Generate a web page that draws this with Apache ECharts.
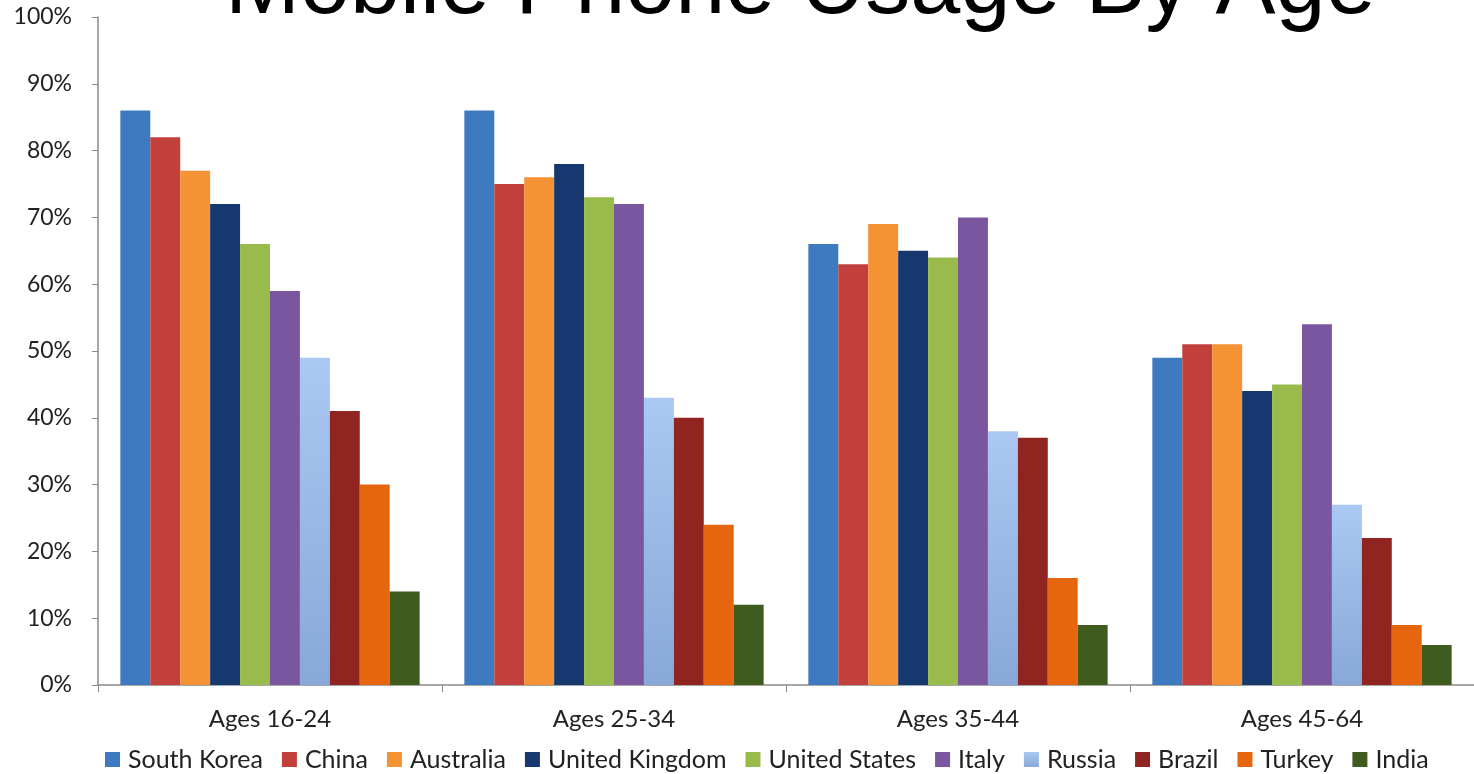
<!DOCTYPE html>
<html><head><meta charset="utf-8">
<script src="https://cdn.jsdelivr.net/npm/echarts@6/dist/echarts.min.js"></script>
<style>html,body{margin:0;padding:0;background:#fff}#c{width:1474px;height:774px}</style>
</head><body><div id="c"></div>
<script>
const categories = ['Ages 16-24', 'Ages 25-34', 'Ages 35-44', 'Ages 45-64'];
const countries = ['South Korea', 'China', 'Australia', 'United Kingdom', 'United States', 'Italy', 'Russia', 'Brazil', 'Turkey', 'India'];
const southKorea = [86, 86, 66, 49];
const china = [82, 75, 63, 51];
const australia = [77, 76, 69, 51];
const unitedKingdom = [72, 78, 65, 44];
const unitedStates = [66, 73, 64, 45];
const italy = [59, 72, 70, 54];
const russia = [49, 43, 38, 27];
const brazil = [41, 40, 37, 22];
const turkey = [30, 24, 16, 9];
const india = [14, 12, 9, 6];
const yTicks = [0, 10, 20, 30, 40, 50, 60, 70, 80, 90, 100];
const colors = ['#3d7abf', '#c1403c', '#f59233', '#17386f', '#98bb4b', '#7b56a0', '#a7c3ec', '#8f2421', '#e6650f', '#3f5b1d'];
const values = [southKorea, china, australia, unitedKingdom, unitedStates, italy, russia, brazil, turkey, india];

const chart = echarts.init(document.getElementById('c'), null, {renderer: 'canvas'});
const font = 'Lato, "Open Sans", sans-serif';
const russiaGradient = new echarts.graphic.LinearGradient(0, 0, 0, 1, [
  {offset: 0, color: '#aac8f2'}, {offset: 1, color: '#88a8d8'}
]);
chart.setOption({
  animation: false,
  title: {
    text: 'Mobile Phone Usage By Age',
    left: 220,
    top: -62,
    textStyle: {fontFamily: '"Liberation Sans", Arial, sans-serif', fontSize: 90, fontWeight: 'normal', color: '#000'}
  },
  legend: {
    bottom: -3,
    left: 100,
    itemWidth: 15,
    itemHeight: 15,
    itemGap: 19,
    icon: 'rect',
    textStyle: {fontFamily: font, fontSize: 25, color: '#222', padding: [0, 0, 0, 3]},
    data: countries
  },
  grid: {left: 98, right: 0, top: 17, bottom: 89},
  xAxis: {
    type: 'category',
    data: categories,
    axisLine: {lineStyle: {color: '#8a8a8a', width: 1.5}},
    axisTick: {show: true, length: 7, lineStyle: {color: '#8a8a8a'}},
    axisLabel: {fontFamily: font, fontSize: 24, color: '#222', margin: 22}
  },
  yAxis: {
    type: 'value',
    min: 0, max: 100, interval: 10,
    splitLine: {show: false},
    axisLine: {show: true, lineStyle: {color: '#8a8a8a', width: 1.5}},
    axisTick: {show: true, length: 6, lineStyle: {color: '#8a8a8a'}},
    axisLabel: {fontFamily: font, fontSize: 23, color: '#222', margin: 26,
      formatter: v => yTicks.includes(v) ? v + '%' : ''}
  },
  series: countries.map((name, i) => ({
    name, type: 'bar', data: values[i], barGap: '0%', barCategoryGap: '13%',
    itemStyle: {color: name === 'Russia' ? russiaGradient : colors[i]}
  }))
});
</script></body></html>
